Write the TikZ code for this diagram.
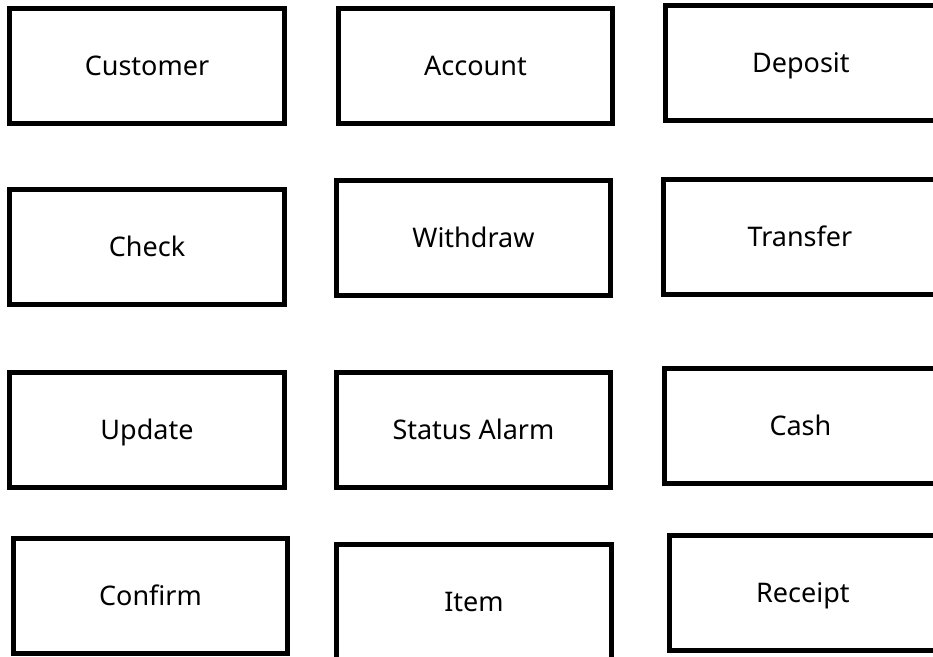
\documentclass[tikz,border=0pt]{standalone}
\usepackage{fontspec}
\setmainfont{Noto Sans}
\usetikzlibrary{positioning}

\tikzset{
  entity/.style={draw, line width=5pt, minimum width=274.5pt, minimum height=115pt,
    inner sep=0pt, text height=19pt, text depth=0pt, font=\fontsize{27}{31}\selectfont}
}

\begin{document}
\begin{tikzpicture}[x=1pt,y=1pt]

    \useasboundingbox (0,0) rectangle (933,-656);

    \node[entity] (customer) at (147,-66) {Customer};
    \node[entity,right of=customer,xshift=300pt] (account) {Account};
    \node[entity,right of=account,xshift=297pt,yshift=3pt,minimum width=271pt] (deposit) {Deposit};

    \node[entity,below of=customer,yshift=-153pt] (check) {Check};
    \node[entity,right of=check,xshift=298pt,yshift=9pt] (withdraw) {Withdraw};
    \node[entity,right of=withdraw,xshift=298pt,yshift=1.5pt,minimum width=272pt] (transfer) {Transfer};

    \node[entity,below of=check,yshift=-154.5pt] (update) {Update};
    \node[entity,right of=update,xshift=298pt] (alarm) {Status Alarm};
    \node[entity,right of=alarm,xshift=298.5pt,yshift=4.5pt,minimum width=271pt] (cash) {Cash};

    \node[entity,below of=update,xshift=3.5pt,yshift=-137.5pt] (confirm) {Confirm};
    \node[entity,right of=confirm,xshift=295pt,yshift=-5.5pt] (item) {Item};
    \node[entity,right of=item,xshift=300.5pt,yshift=9pt,minimum width=267pt] (receipt) {Receipt};

  \end{tikzpicture}
\end{document}
